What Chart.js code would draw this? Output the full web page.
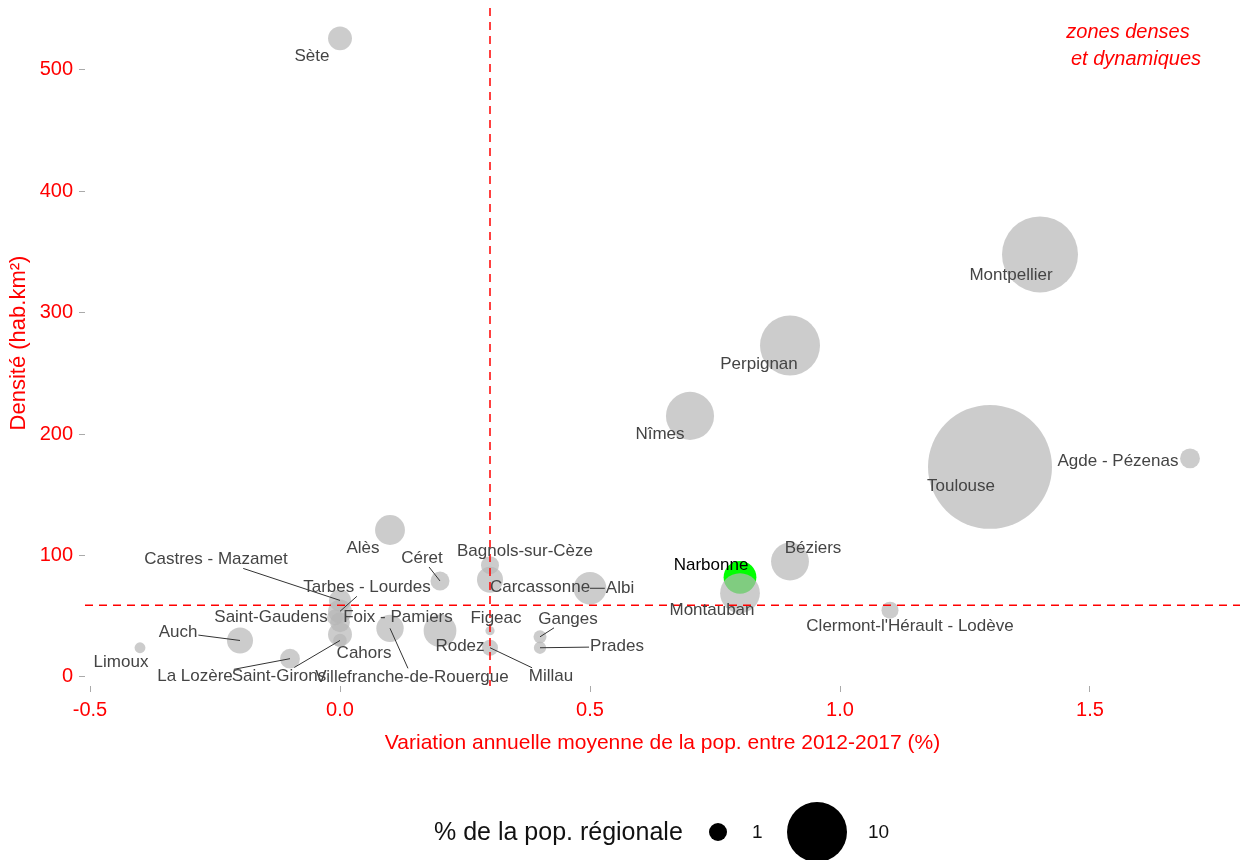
<!DOCTYPE html>
<html lang="fr">
<head>
  <meta charset="UTF-8">
  <title>Densité et dynamique démographique - Occitanie</title>
  <style>
    html, body { margin: 0; padding: 0; background: #ffffff; }
    #chartcontainer { width: 1244px; height: 860px; }
    canvas { display: block; }
  </style>
</head>
<body>
  <div id="chartcontainer">
    <canvas id="myChart" width="1244" height="860"></canvas>
  </div>

  <script src="https://cdn.jsdelivr.net/npm/chart.js"></script>
  <script>
const zones = ['Sète', 'Montpellier', 'Perpignan', 'Nîmes', 'Toulouse', 'Agde - Pézenas', 'Béziers',
  'Narbonne', 'Montauban', "Clermont-l'Hérault - Lodève", 'Albi', 'Carcassonne', 'Bagnols-sur-Cèze',
  'Alès', 'Céret', 'Castres - Mazamet', 'Tarbes - Lourdes', 'Saint-Gaudens', 'Foix - Pamiers', 'Cahors',
  'Saint-Girons', 'Villefranche-de-Rouergue', 'Figeac', 'Rodez', 'Millau', 'Ganges', 'Prades', 'Auch',
  'Limoux', 'La Lozère'];
// variation annuelle moyenne 2012-2017 (%)
const variation = [0.0, 1.4, 0.9, 0.7, 1.3, 1.7, 0.9,
  0.8, 0.8, 1.1, 0.5, 0.3, 0.3,
  0.1, 0.2, 0.0, 0.0, -0.01, 0.0, 0.0,
  0.0, 0.1, 0.3, 0.2, 0.3, 0.4, 0.4, -0.2,
  -0.4, -0.1];
// densité (hab/km²)
const densite = [526, 348, 273, 215, 173, 180, 95,
  82, 69, 55, 73, 80, 92,
  121, 79, 63, 54, 49, 45, 35,
  30, 40, 38, 38, 24, 33, 24, 30,
  24, 15];
// % de la population régionale
const partPop = [1.7, 15.9, 10.0, 6.5, 41.7, 1.2, 4.1,
  3.1, 4.5, 0.9, 3.1, 2.0, 1.0,
  2.6, 1.1, 1.45, 1.7, 0.8, 1.2, 1.7,
  0.6, 2.2, 0.3, 3.1, 0.8, 0.55, 0.5, 2.0,
  0.4, 1.2];
const zoneMiseEnAvant = 'Narbonne';

const xTicks = [-0.5, 0, 0.5, 1, 1.5];
const yTicks = [0, 100, 200, 300, 400, 500];
const seuilVariation = 0.3;
const seuilDensite = 59;
const legendeTailles = [1, 10];

// placement des étiquettes (décalage en px depuis le point) et trait de rappel
const labelDx = [-28, -29, -31, -30, -29, -72, 23,
  -29, -28, 20, 30, 50, 35,
  -27, -18, -124, 27, -64, 58, 24,
  -61, 22, 6, 20, 61, 28, 77, -62,
  -19, -95];
const labelDy = [18, 21, 19, 18, 19, 3, -13,
  -12, 17, 16, 0, 8, -14,
  18, -23, -41, -24, 0, -5, 19,
  36, 49, -12, 16, 29, -18, -1, -8,
  15, 18];
const rappel = [false, false, false, false, false, false, false,
  false, false, false, true, false, false,
  false, true, true, true, false, false, false,
  true, true, false, false, true, true, true, true,
  false, true];

const FONT = '"Liberation Sans", Arial, sans-serif';

function rayon(p) {
  return 9.71 * Math.sqrt(p) - 0.71;
}

function points(filtre) {
  return zones.map((nom, i) => ({ x: variation[i], y: densite[i], r: rayon(partPop[i]), nom }))
    .filter(filtre);
}

const habillage = {
  id: 'habillage',
  afterDatasetsDraw(chart) {
    const { ctx, chartArea: a, scales: { x, y } } = chart;
    ctx.save();

    // lignes de seuil
    ctx.strokeStyle = '#ff0000';
    ctx.lineWidth = 1.5;
    ctx.setLineDash([8, 6]);
    ctx.beginPath();
    const xs = x.getPixelForValue(seuilVariation);
    ctx.moveTo(xs, a.top);
    ctx.lineTo(xs, a.bottom);
    const ys = y.getPixelForValue(seuilDensite);
    ctx.moveTo(a.left, ys);
    ctx.lineTo(a.right, ys);
    ctx.stroke();
    ctx.setLineDash([]);

    // traits de rappel puis étiquettes
    ctx.font = '17px ' + FONT;
    ctx.textAlign = 'center';
    ctx.textBaseline = 'middle';
    ctx.strokeStyle = '#333333';
    ctx.lineWidth = 1;
    zones.forEach((nom, i) => {
      if (!rappel[i]) return;
      const px = x.getPixelForValue(variation[i]);
      const py = y.getPixelForValue(densite[i]);
      const lx = px + labelDx[i], ly = py + labelDy[i];
      const hw = ctx.measureText(nom).width / 2 + 1, hh = 9;
      const dx = px - lx, dy = py - ly;
      const t = Math.min(dx ? hw / Math.abs(dx) : Infinity, dy ? hh / Math.abs(dy) : Infinity, 1);
      ctx.beginPath();
      ctx.moveTo(lx + dx * t, ly + dy * t);
      ctx.lineTo(px, py);
      ctx.stroke();
    });
    zones.forEach((nom, i) => {
      const px = x.getPixelForValue(variation[i]);
      const py = y.getPixelForValue(densite[i]);
      ctx.fillStyle = nom === zoneMiseEnAvant ? '#000000' : '#444444';
      ctx.fillText(nom, px + labelDx[i], py + labelDy[i]);
    });

    // annotation du quadrant
    ctx.fillStyle = '#ff0000';
    ctx.font = 'italic 20px ' + FONT;
    ctx.fillText('zones denses', a.right - 112, a.top + 24);
    ctx.fillText('et dynamiques', a.right - 104, a.top + 51);

    // titres des axes
    ctx.font = '21px ' + FONT;
    ctx.fillText('Variation annuelle moyenne de la pop. entre 2012-2017 (%)', (a.left + a.right) / 2, a.bottom + 57);
    ctx.save();
    ctx.font = '22px ' + FONT;
    ctx.translate(19, (a.top + a.bottom) / 2 - 4);
    ctx.rotate(-Math.PI / 2);
    ctx.fillText('Densité (hab.km²)', 0, 0);
    ctx.restore();

    // légende des tailles
    const ly = 833;
    ctx.fillStyle = '#111111';
    ctx.textAlign = 'left';
    ctx.font = '25px ' + FONT;
    ctx.fillText('% de la pop. régionale', 434, ly);
    ctx.font = '19px ' + FONT;
    const cx = [718, 817];
    const tx = [752, 868];
    legendeTailles.forEach((v, k) => {
      ctx.fillStyle = '#000000';
      ctx.beginPath();
      ctx.arc(cx[k], ly - 1, rayon(v), 0, Math.PI * 2);
      ctx.fill();
      ctx.fillStyle = '#111111';
      ctx.fillText(String(v), tx[k], ly);
    });

    ctx.restore();
  }
};

new Chart(document.getElementById('myChart'), {
  type: 'bubble',
  data: {
    datasets: [
      {
        data: points(p => p.nom !== zoneMiseEnAvant),
        backgroundColor: 'rgba(183, 183, 183, 0.7)',
        borderWidth: 0
      },
      {
        data: points(p => p.nom === zoneMiseEnAvant),
        backgroundColor: '#00ff00',
        borderWidth: 0
      }
    ]
  },
  options: {
    responsive: false,
    animation: false,
    events: [],
    layout: { autoPadding: false, padding: { top: 8, right: 4, left: 0, bottom: 0 } },
    plugins: {
      legend: { display: false },
      tooltip: { enabled: false }
    },
    scales: {
      x: {
        type: 'linear',
        min: -0.51,
        max: 1.80,
        afterFit: s => { s.height = 174; s.paddingLeft = 0; s.paddingRight = 0; },
        afterBuildTicks: s => { s.ticks = xTicks.map(v => ({ value: v })); },
        grid: { drawOnChartArea: false, drawTicks: true, tickLength: 6, tickColor: '#aaaaaa' },
        border: { display: false },
        ticks: {
          color: '#ff0000',
          font: { family: FONT, size: 20 },
          padding: 6,
          maxRotation: 0,
          autoSkip: false,
          callback: v => v.toFixed(1)
        }
      },
      y: {
        type: 'linear',
        min: -7.5,
        max: 551,
        afterFit: s => { s.width = 85; s.paddingTop = 0; s.paddingBottom = 0; },
        afterBuildTicks: s => { s.ticks = yTicks.map(v => ({ value: v })); },
        grid: { drawOnChartArea: false, drawTicks: true, tickLength: 6, tickColor: '#aaaaaa' },
        border: { display: false },
        ticks: {
          color: '#ff0000',
          font: { family: FONT, size: 20 },
          padding: 6,
          autoSkip: false,
          callback: v => String(v)
        }
      }
    }
  },
  plugins: [habillage]
});
  </script>
</body>
</html>
